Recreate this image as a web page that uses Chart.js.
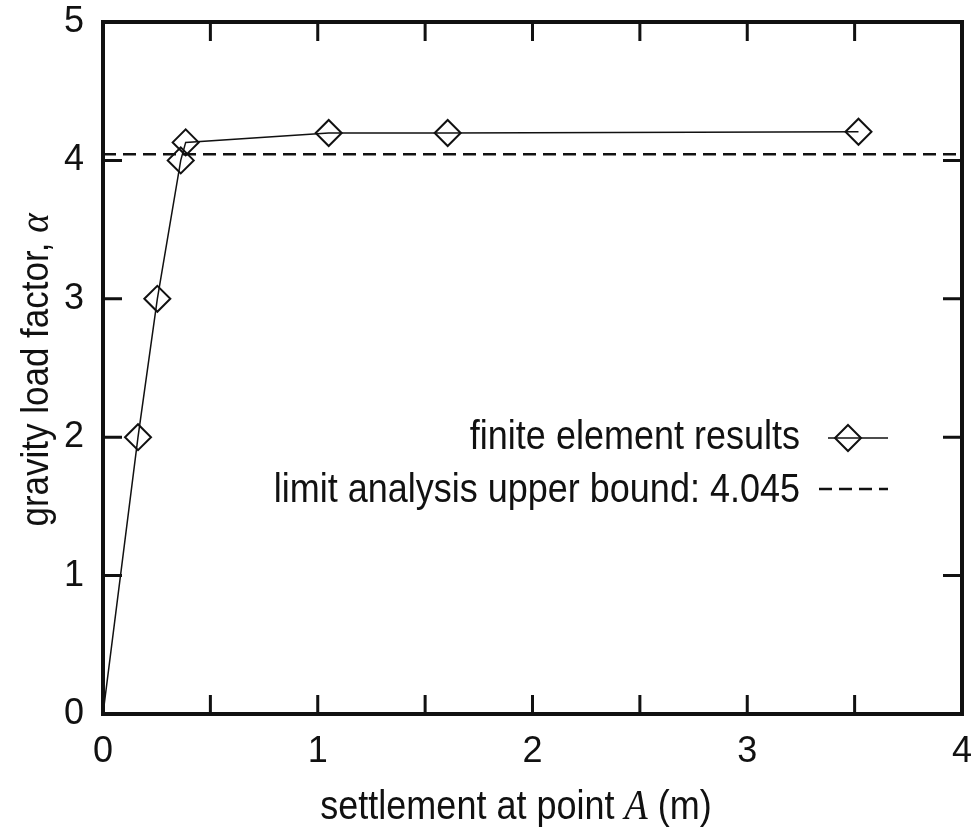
<!DOCTYPE html>
<html>
<head>
<meta charset="utf-8">
<script src="https://cdn.jsdelivr.net/npm/chart.js@4/dist/chart.umd.min.js"></script>
<style>
  html, body { margin: 0; padding: 0; background: #fff; }
  canvas { display: block; }
</style>
</head>
<body>
<canvas id="c" width="977" height="836"></canvas>
<script>
// ---- data ----
const settlement = [0, 0.163, 0.253, 0.362, 0.385, 1.051, 1.605, 3.518];
const loadFactor = [0, 2.0, 3.0, 4.0, 4.13, 4.198, 4.198, 4.207];
const boundX = [0, 4];
const upperBound = 4.045;
const seriesLabels = ['finite element results', 'limit analysis upper bound: 4.045'];
const xTickLabels = [0, 1, 2, 3, 4];
const yTickLabels = [0, 1, 2, 3, 4, 5];
const xMinorTicks = [0.5, 1, 1.5, 2, 2.5, 3, 3.5];
const yMinorTicks = [1, 2, 3, 4];

const INK = '#111';
const FONT = '"Liberation Sans", Arial, Helvetica, sans-serif';
const SERIF = '"Liberation Serif", "Times New Roman", serif';
const STRETCH = 1.12;

function stretchedText(ctx, text, x, y) {
  ctx.save();
  ctx.translate(x, y);
  ctx.scale(1, STRETCH);
  ctx.fillText(text, 0, 0);
  ctx.restore();
}

const framePlugin = {
  id: 'frame',
  afterDraw(chart) {
    const ctx = chart.ctx;
    const a = chart.chartArea;
    const xs = chart.scales.x, ys = chart.scales.y;
    ctx.save();
    // inward ticks
    ctx.strokeStyle = INK;
    ctx.lineWidth = 3;
    ctx.beginPath();
    xMinorTicks.forEach(v => {
      const px = xs.getPixelForValue(v);
      ctx.moveTo(px, a.bottom); ctx.lineTo(px, a.bottom - 19);
      ctx.moveTo(px, a.top); ctx.lineTo(px, a.top + 19);
    });
    yMinorTicks.forEach(v => {
      const py = ys.getPixelForValue(v);
      ctx.moveTo(a.left, py); ctx.lineTo(a.left + 19, py);
      ctx.moveTo(a.right, py); ctx.lineTo(a.right - 19, py);
    });
    ctx.stroke();
    // frame
    ctx.lineWidth = 4;
    ctx.strokeRect(a.left, a.top, a.right - a.left, a.bottom - a.top);

    // x axis title with italic A
    ctx.fillStyle = INK;
    ctx.textBaseline = 'alphabetic';
    const parts = [
      { t: 'settlement at point ', f: '36px ' + FONT },
      { t: 'A', f: 'italic 38px ' + SERIF },
      { t: ' (m)', f: '36px ' + FONT }
    ];
    let total = 0;
    parts.forEach(p => { ctx.font = p.f; p.w = ctx.measureText(p.t).width; total += p.w; });
    let x0 = 516 - total / 2;
    ctx.textAlign = 'left';
    parts.forEach(p => { ctx.font = p.f; stretchedText(ctx, p.t, x0, 819); x0 += p.w; });

    // y axis title with italic alpha
    ctx.save();
    ctx.translate(48, 370);
    ctx.rotate(-Math.PI / 2);
    const yparts = [
      { t: 'gravity load factor, ', f: '35px ' + FONT },
      { t: 'α', f: 'italic 37px ' + SERIF }
    ];
    let yt = 0;
    yparts.forEach(p => { ctx.font = p.f; p.w = ctx.measureText(p.t).width; yt += p.w; });
    let y0 = -yt / 2;
    yparts.forEach(p => { ctx.font = p.f; stretchedText(ctx, p.t, y0, 0); y0 += p.w; });
    ctx.restore();

    // legend
    ctx.font = '36px ' + FONT;
    ctx.textAlign = 'right';
    stretchedText(ctx, seriesLabels[0], 800, 449);
    stretchedText(ctx, seriesLabels[1], 800, 502);
    // sample 1: line + diamond
    ctx.lineWidth = 1.5;
    ctx.beginPath();
    ctx.moveTo(828, 438); ctx.lineTo(888, 438);
    ctx.stroke();
    ctx.lineWidth = 2;
    ctx.beginPath();
    ctx.moveTo(848, 425); ctx.lineTo(861, 438); ctx.lineTo(848, 451); ctx.lineTo(835, 438); ctx.closePath();
    ctx.stroke();
    // sample 2: dashed
    ctx.lineWidth = 2.5;
    ctx.setLineDash([13, 7]);
    ctx.beginPath();
    ctx.moveTo(819, 489); ctx.lineTo(888, 489);
    ctx.stroke();
    ctx.setLineDash([]);
    ctx.restore();
  }
};

const pointRadii = settlement.map((x, i) => (x === 0 ? 0 : 13));

new Chart(document.getElementById('c'), {
  type: 'scatter',
  data: {
    datasets: [
      {
        label: seriesLabels[0],
        data: settlement.map((x, i) => ({ x: x, y: loadFactor[i] })),
        showLine: true,
        borderColor: INK,
        borderWidth: 1.5,
        pointStyle: 'rectRot',
        pointRadius: pointRadii,
        pointBorderWidth: 2,
        pointBorderColor: INK,
        pointBackgroundColor: 'rgba(0,0,0,0)',
        tension: 0,
        order: 1
      },
      {
        label: seriesLabels[1],
        data: boundX.map(x => ({ x: x, y: upperBound })),
        showLine: true,
        borderColor: INK,
        borderWidth: 2.5,
        borderDash: [13, 7],
        pointRadius: 0,
        order: 2
      }
    ]
  },
  options: {
    responsive: false,
    animation: false,
    layout: { padding: { top: 22, right: 15, left: 0, bottom: 0 } },
    plugins: { legend: { display: false }, tooltip: { enabled: false } },
    scales: {
      x: {
        type: 'linear', min: 0, max: 4,
        afterBuildTicks(s) { s.ticks = xTickLabels.map(v => ({ value: v })); },
        ticks: { color: INK, font: { family: FONT, size: 36 }, padding: 16, maxRotation: 0, autoSkip: false },
        grid: { display: false, drawTicks: false },
        border: { display: false },
        afterFit(s) { s.height = 122; s.paddingLeft = 0; s.paddingRight = 0; }
      },
      y: {
        type: 'linear', min: 0, max: 5,
        afterBuildTicks(s) { s.ticks = yTickLabels.map(v => ({ value: v })); },
        ticks: { color: INK, font: { family: FONT, size: 36 }, padding: 19, autoSkip: false },
        grid: { display: false, drawTicks: false },
        border: { display: false },
        afterFit(s) { s.width = 103; s.paddingTop = 0; s.paddingBottom = 0; }
      }
    }
  },
  plugins: [framePlugin]
});
</script>
</body>
</html>
